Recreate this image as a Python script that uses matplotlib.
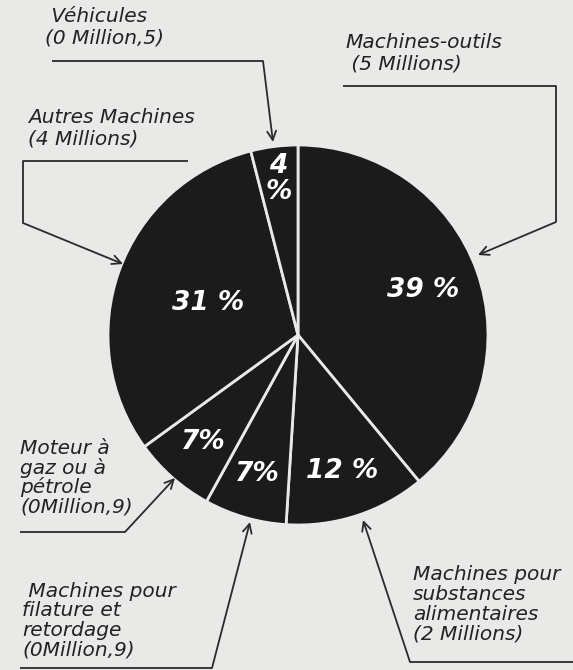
import numpy as np
import matplotlib
matplotlib.use("Agg")
import matplotlib.pyplot as plt

# ---- data ----
categories = ["Machines-outils", "Machines pour substances alimentaires",
              "Machines pour filature et retordage", "Moteur à gaz ou à pétrole",
              "Autres Machines", "Véhicules"]
shares = [39, 12, 7, 7, 31, 4]
pct_labels = ["39 %", "12 %", "7%", "7%", "31 %", "4\n%"]
callouts = [
    "Machines-outils\n (5 Millions)",
    "Machines pour\nsubstances\nalimentaires\n(2 Millions)",
    " Machines pour\nfilature et\nretordage\n(0Million,9)",
    "Moteur à\ngaz ou à\npétrole\n(0Million,9)",
    "Autres Machines\n(4 Millions)",
    " Véhicules\n(0 Million,5)",
]

W, H = 573, 670
BG = "#e9e9e7"
INK = "#1b1b1b"

fig = plt.figure(figsize=(W / 100, H / 100), dpi=100, facecolor=BG)
ax = fig.add_axes([0, 0, 1, 1])
ax.set_facecolor(BG)

def P(x, y):
    return (x, H - y)

cx, cy = P(298, 335)
R = 190
ax.pie(shares, center=(cx, cy), radius=R, startangle=90, counterclock=False,
       colors=[INK] * len(shares),
       wedgeprops=dict(edgecolor=BG, linewidth=2.0))
ax.set_xlim(0, W)
ax.set_ylim(0, H)
ax.set_aspect("equal")
ax.set_axis_off()

# percentage labels inside wedges
rfac = [0.70, 0.75, 0.76, 0.75, 0.50, 0.83]
cum = np.cumsum([0] + shares)
for i, (lab, rf) in enumerate(zip(pct_labels, rfac)):
    mid = 90 - 3.6 * (cum[i] + cum[i + 1]) / 2
    x = cx + rf * R * np.cos(np.radians(mid))
    y = cy + rf * R * np.sin(np.radians(mid))
    ax.text(x, y, lab, color="white", fontsize=19, fontweight="bold",
            fontstyle="italic", ha="center", va="center", linespacing=1.0,
            family="DejaVu Sans")

# callout texts and leader lines
text_specs = [
    (P(345, 33), 1.15),
    (P(413, 565), 1.06),
    (P(22, 582), 1.03),
    (P(20, 439), 0.98),
    (P(28, 108), 1.15),
    (P(45, 7), 1.15),
]
paths = [
    [(343, 86), (556, 86), (556, 222), (478, 255)],
    [(573, 662), (410, 662), (363, 520)],
    [(20, 668), (212, 668), (250, 522)],
    [(20, 532), (125, 532), (175, 478)],
    [(188, 161), (23, 161), (23, 223), (123, 264)],
    [(52, 61), (263, 61), (273, 142)],
]
for lab, (pos, ls), path in zip(callouts, text_specs, paths):
    ax.text(pos[0], pos[1], lab, ha="left", va="top", fontsize=14.5,
            fontstyle="italic", color="#222222", family="DejaVu Sans",
            linespacing=ls)
    pts = [P(*p) for p in path]
    xs, ys = zip(*pts[:-1])
    ax.plot(xs, ys, color="#2a2a2a", lw=1.3, solid_capstyle="butt")
    ax.annotate("", xy=pts[-1], xytext=pts[-2],
                arrowprops=dict(arrowstyle="->", color="#2a2a2a", lw=1.3,
                                mutation_scale=16, shrinkA=0, shrinkB=0))

fig.savefig("out.png", dpi=100, facecolor=BG)
